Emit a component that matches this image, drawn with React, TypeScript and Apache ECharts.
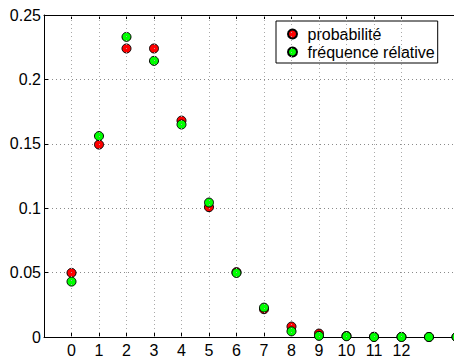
import React, { useEffect, useRef } from "react";
import * as echarts from "echarts";

const categories = [0, 1, 2, 3, 4, 5, 6, 7, 8, 9, 10, 11, 12, 13, 14];
const probabilite = [0.0498, 0.1494, 0.224, 0.224, 0.168, 0.1008, 0.0504, 0.0216, 0.0081, 0.0027, 0.0008, 0.0002, 0.0001, 0, 0];
const frequence = [0.043, 0.156, 0.233, 0.2144, 0.165, 0.1044, 0.0497, 0.0228, 0.0044, 0.0009, 0.0006, 0, 0, 0, 0];
const xTicks = [0, 1, 2, 3, 4, 5, 6, 7, 8, 9, 10, 11, 12];
const seriesNames = ["probabilité", "fréquence rélative"];

const FONT = "'Liberation Sans', Arial, sans-serif";

export default function App() {
  const ref = useRef<HTMLDivElement>(null);
  useEffect(() => {
    if (!ref.current) return;
    const chart = echarts.init(ref.current, undefined, { renderer: "svg" });
    const gridLineStyle = { color: "#8a8a8a", width: 1, type: [1, 3] as any };
    const xMax = 13.91;
    chart.setOption({
      animation: false,
      backgroundColor: "#ffffff",
      textStyle: { fontFamily: FONT },
      grid: { left: 44, top: 15, bottom: 20, right: 0, containLabel: false },
      legend: {
        orient: "vertical",
        left: 276,
        top: 21,
        padding: [5, 3, 3, 11],
        itemGap: 2,
        itemWidth: 20,
        itemHeight: 9,
        backgroundColor: "#ffffff",
        borderColor: "#000000",
        borderWidth: 1,
        borderRadius: 0,
        textStyle: { fontFamily: FONT, fontSize: 16, color: "#000", padding: [0, 0, 0, 0] },
        data: seriesNames.map((n) => ({ name: n, icon: "circle" })),
      },
      xAxis: [
        {
          type: "value",
          min: -1,
          max: xMax,
          position: "bottom",
          axisLine: { show: true, onZero: false, lineStyle: { color: "#000", width: 1 } },
          axisTick: { show: true, inside: true, length: 4, customValues: xTicks, lineStyle: { color: "#000" } },
          axisLabel: {
            show: true,
            customValues: xTicks,
            fontFamily: FONT,
            fontSize: 16,
            color: "#000",
            margin: 5,
            formatter: (v: number) => String(v),
          },
          splitLine: { show: false },
        },
        {
          type: "value",
          min: -1,
          max: xMax,
          position: "top",
          axisLine: { show: true, onZero: false, lineStyle: { color: "#000", width: 1 } },
          axisTick: { show: true, inside: true, length: 4, customValues: xTicks, lineStyle: { color: "#000" } },
          axisLabel: { show: false },
          splitLine: { show: false },
        },
      ],
      yAxis: [
        {
          type: "value",
          min: 0,
          max: 0.25,
          interval: 0.05,
          axisLine: { show: true, onZero: false, lineStyle: { color: "#000", width: 1 } },
          axisTick: { show: true, inside: true, length: 4, lineStyle: { color: "#000" } },
          axisLabel: {
            fontFamily: FONT,
            fontSize: 16,
            color: "#000",
            margin: 3,
            formatter: (v: number) => String(parseFloat(v.toFixed(2))),
          },
          splitLine: { show: true, lineStyle: gridLineStyle },
        },
      ],
      series: [
        {
          name: "grid",
          type: "line",
          data: [],
          silent: true,
          markLine: {
            silent: true,
            symbol: "none",
            label: { show: false },
            lineStyle: { ...gridLineStyle, color: "#a8a8a8" },
            data: xTicks.map((x) => ({ xAxis: x })),
          },
        },
        {
          name: seriesNames[0],
          type: "scatter",
          symbol: "circle",
          symbolSize: 9,
          clip: false,
          itemStyle: { color: "#ff0000", borderColor: "#000", borderWidth: 1, opacity: 1 },
          data: categories.map((c, i) => [c, probabilite[i]]),
          z: 3,
        },
        {
          name: seriesNames[1],
          type: "scatter",
          symbol: "circle",
          symbolSize: 9,
          clip: false,
          itemStyle: { color: "#00ff00", borderColor: "#000", borderWidth: 1, opacity: 1 },
          data: categories.map((c, i) => [c, frequence[i]]),
          z: 4,
        },
      ],
    });
    return () => chart.dispose();
  }, []);
  return (
    <div
      ref={ref}
      style={{ position: "fixed", left: 0, top: 0, width: 454, height: 358, background: "#fff" }}
    />
  );
}
